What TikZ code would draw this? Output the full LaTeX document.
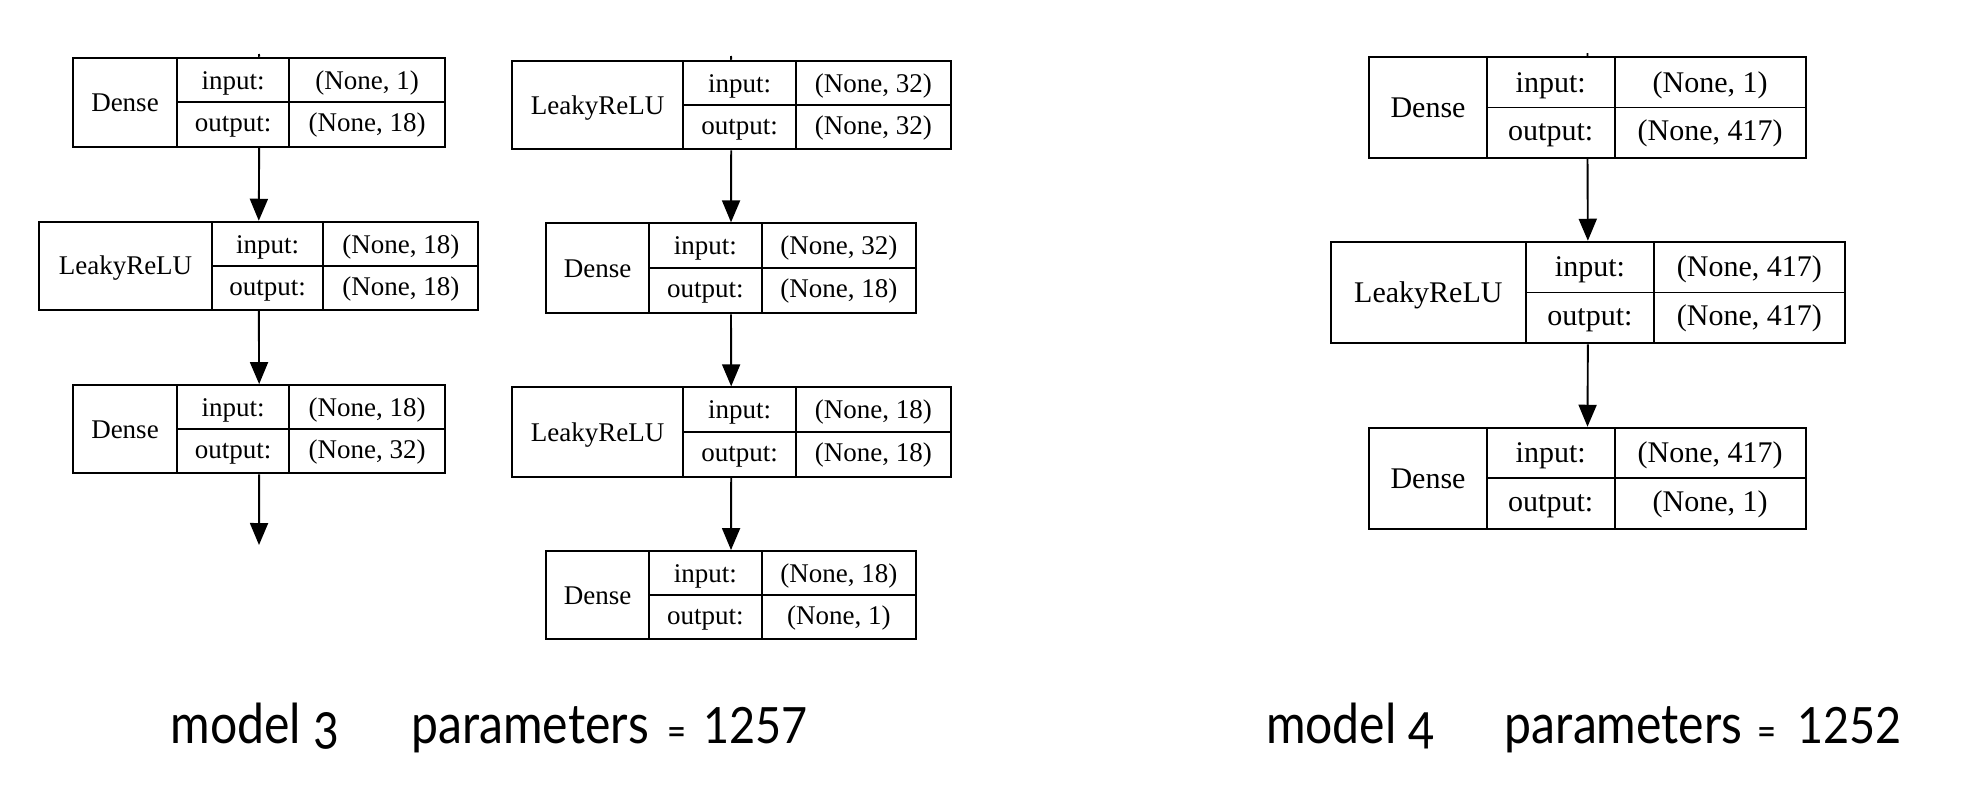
\documentclass[tikz,border=0pt]{standalone}
\usepackage{fontspec}
\setmainfont{Liberation Serif}
\newfontfamily\capfont[FakeStretch=0.875,Numbers=OldStyle]{Lato}
\newfontfamily\capnum[FakeStretch=0.9]{Lato}
\usetikzlibrary{arrows.meta,fit}
\newcommand\recpair[2]{\def\rin{#1}\def\rout{#2}}
% #1 name, #2 x1, #3 y1, #4 x2, #5 y2, #6 d1, #7 d2, #8 label, #9 {in}{out}
\newcommand\rec[9]{%
  \recpair#9
  \node[recbox, fit={(#2,#3)(#4,#5)}] (#1) {};
  \draw[recline] (#6,#3) -- (#6,#5) (#7,#3) -- (#7,#5) (#6,{(#3+#5)/2}) -- (#4,{(#3+#5)/2});
  \node[rectext, anchor=base] (#1-l) at ({(#2+#6)/2},{(#3+#5)/2+\olab}) {#8};
  \node[rectext, anchor=base] (#1-i) at ({(#6+#7)/2},{#3+\oin}) {input:};
  \node[rectext, anchor=base] (#1-o) at ({(#6+#7)/2},{(#3+#5)/2+\oout}) {output:};
  \node[rectext, anchor=base] (#1-iv) at ({(#7+#4)/2},{#3+\oin}) {\rin};
  \node[rectext, anchor=base] (#1-ov) at ({(#7+#4)/2},{(#3+#5)/2+\oout}) {\rout};
}
\begin{document}
\begin{tikzpicture}[x=0.5pt,y=-0.5pt,
  recbox/.style={draw=black, line width=0.95pt, inner sep=0pt},
  recline/.style={draw=black, line width=0.95pt},
  arr/.style={draw=black, line width=0.95pt, -{Triangle[length=11pt,width=9pt]}},
  capt/.style={font=\capfont\fontsize{27.5}{30}\selectfont, inner sep=0pt, anchor=base west},
  capeq/.style={font=\capfont\fontsize{20}{22}\selectfont, inner sep=0pt, anchor=base west},
  capbig/.style={font=\capnum\fontsize{25}{28}\selectfont, inner sep=0pt, anchor=base west}]
\useasboundingbox (0,0) rectangle (1968,798);
\fill[white] (0,0) rectangle (1968,798);

% columns 1 and 2 (model 3)
\begin{scope}[rectext/.style={font=\fontsize{13.5}{16}\selectfont, inner sep=0pt}]
\def\oin{31.5}\def\oout{29.5}\def\olab{9}
\rec{a1}{73.3}{57.7}{445}{146.7}{176.7}{289.3}{Dense}{{(None, 1)}{(None, 18)}}
\rec{a2}{39.3}{221.7}{478.3}{310}{211.7}{323.3}{LeakyReLU}{{(None, 18)}{(None, 18)}}
\rec{a3}{73.3}{385}{445}{473.3}{176.7}{289.3}{Dense}{{(None, 18)}{(None, 32)}}
\rec{b1}{511.7}{60.7}{950.7}{149.3}{683.3}{796}{LeakyReLU}{{(None, 32)}{(None, 32)}}
\rec{b2}{546}{223.3}{916}{313.3}{649}{761.7}{Dense}{{(None, 32)}{(None, 18)}}
\rec{b3}{511.7}{387.3}{950.7}{476.7}{683.3}{796}{LeakyReLU}{{(None, 18)}{(None, 18)}}
\rec{b4}{546}{551}{916}{639.3}{649}{761.7}{Dense}{{(None, 18)}{(None, 1)}}
\end{scope}

% column 3 (model 4)
\begin{scope}[rectext/.style={font=\fontsize{15}{18}\selectfont, inner sep=0pt}]
\def\oin{35}\def\oout{33}\def\olab{10}
\rec{c1}{1369.3}{57.3}{1805.7}{157.7}{1486.8}{1614.6}{Dense}{{(None, 1)}{(None, 417)}}
\rec{c2}{1330.7}{241.7}{1845}{343.3}{1526}{1653.9}{LeakyReLU}{{(None, 417)}{(None, 417)}}
\rec{c3}{1369.3}{427.7}{1805.7}{529}{1486.8}{1614.6}{Dense}{{(None, 417)}{(None, 1)}}
\end{scope}

% stubs and free ends
\coordinate (sa) at (259,54);
\coordinate (sb) at (731,56);
\coordinate (sc) at (1587.5,53);
\coordinate (ea) at (259,545);
\draw[recline] (sa) -- (a1.north);
\draw[recline] (sb) -- (b1.north);
\draw[recline] (sc) -- (c1.north);

% connectors
\draw[arr] (a1.south) -- (a2.north);
\draw[arr] (a2.south) -- (a3.north);
\draw[arr] (a3.south) -- (ea);
\draw[arr] (b1.south) -- (b2.north);
\draw[arr] (b2.south) -- (b3.north);
\draw[arr] (b3.south) -- (b4.north);
\draw[arr] (c1.south) -- (c2.north);
\draw[arr] (c2.south) -- (c3.north);

% captions
\node[capt] (m3) at (170,743) {model 3};
\node[capt] (p3) at (411,743) {parameters};
\node[capeq] (e3) at (667,743) {=};
\node[capbig] (n3) at (703,743) {1257};
\node[capt] (m4) at (1265.6,743) {model 4};
\node[capt] (p4) at (1504.5,743) {parameters};
\node[capeq] (e4) at (1757,743) {=};
\node[capbig] (n4) at (1797,743) {1252};
\end{tikzpicture}
\end{document}
